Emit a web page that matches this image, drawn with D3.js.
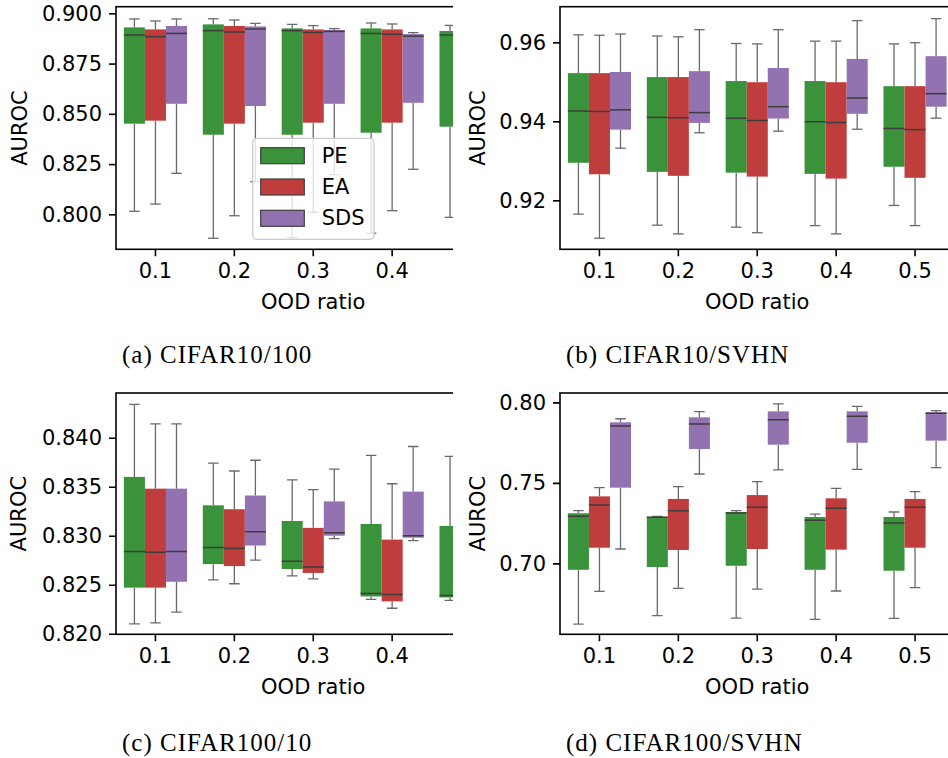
<!DOCTYPE html>
<html>
<head>
<meta charset="utf-8">
<script src="https://cdn.jsdelivr.net/npm/d3@7"></script>
<style>
  html, body { margin: 0; padding: 0; background: #fff; }
  svg { display: block; }
  .tick text { font-family: "DejaVu Sans", sans-serif; font-size: 21px; fill: #000; }
  .lbl { font-family: "DejaVu Sans", sans-serif; font-size: 21px; fill: #000; }
  .cap { font-family: "Liberation Serif", serif; font-size: 25px; letter-spacing: 1px; fill: #000; }
</style>
</head>
<body>
<div id="chart"></div>
<script>
const ratios = ["0.1", "0.2", "0.3", "0.4", "0.5"];
const methods = ["PE", "EA", "SDS"];
const colors = ["#3a923a", "#c03d3e", "#9372b2"];

// each row: [lower whisker, q1, median, q3, upper whisker]; null = outside the picture
const a_PE = [
  [0.8015, 0.8451, 0.8892, 0.8930, 0.8972],
  [0.7881, 0.8396, 0.8914, 0.8945, 0.8973],
  [0.7884, 0.8396, 0.8914, 0.8925, 0.8945],
  [0.7906, 0.8406, 0.8900, 0.8925, 0.8952],
  [0.7985, 0.8436, 0.8892, 0.8912, 0.8940]];
const a_EA = [
  [0.8051, 0.8466, 0.8884, 0.8920, 0.8962],
  [0.7993, 0.8451, 0.8907, 0.8937, 0.8967],
  [0.8010, 0.8456, 0.8905, 0.8920, 0.8939],
  [0.8018, 0.8456, 0.8896, 0.8920, 0.8947],
  null];
const a_SDS = [
  [0.8204, 0.8550, 0.8900, 0.8937, 0.8972],
  [0.8162, 0.8539, 0.8922, 0.8935, 0.8950],
  [0.8197, 0.8550, 0.8910, 0.8917, 0.8924],
  [0.8224, 0.8555, 0.8886, 0.8897, 0.8904],
  null];

const b_PE = [
  [0.9165, 0.9295, 0.9426, 0.9522, 0.9619],
  [0.9137, 0.9272, 0.9410, 0.9512, 0.9616],
  [0.9132, 0.9270, 0.9408, 0.9502, 0.9597],
  [0.9136, 0.9267, 0.9399, 0.9502, 0.9603],
  [0.9187, 0.9285, 0.9382, 0.9489, 0.9596]];
const b_EA = [
  [0.9104, 0.9266, 0.9425, 0.9522, 0.9618],
  [0.9115, 0.9262, 0.9409, 0.9512, 0.9614],
  [0.9118, 0.9260, 0.9402, 0.9499, 0.9596],
  [0.9115, 0.9255, 0.9397, 0.9499, 0.9603],
  [0.9136, 0.9257, 0.9379, 0.9489, 0.9599]];
const b_SDS = [
  [0.9332, 0.9379, 0.9429, 0.9525, 0.9621],
  [0.9371, 0.9396, 0.9422, 0.9527, 0.9632],
  [0.9375, 0.9407, 0.9437, 0.9535, 0.9632],
  [0.9380, 0.9419, 0.9459, 0.9558, 0.9655],
  [0.9408, 0.9437, 0.9470, 0.9565, 0.9660]];

const c_PE = [
  [0.8210, 0.8247, 0.8284, 0.8360, 0.8434],
  [0.8255, 0.8271, 0.8288, 0.8331, 0.8374],
  [0.8259, 0.8266, 0.8274, 0.8315, 0.8357],
  [0.8235, 0.8238, 0.8241, 0.8312, 0.8382],
  [0.8234, 0.8237, 0.8239, 0.8310, 0.8381]];
const c_EA = [
  [0.8211, 0.8247, 0.8283, 0.8348, 0.8414],
  [0.8251, 0.8269, 0.8287, 0.8327, 0.8366],
  [0.8256, 0.8262, 0.8268, 0.8308, 0.8347],
  [0.8226, 0.8233, 0.8240, 0.8296, 0.8353],
  null];
const c_SDS = [
  [0.8222, 0.8253, 0.8284, 0.8348, 0.8414],
  [0.8275, 0.8290, 0.8304, 0.8341, 0.8377],
  [0.8297, 0.8300, 0.8303, 0.8335, 0.8368],
  [0.8295, 0.8298, 0.8300, 0.8345, 0.8391],
  null];

const d_PE = [
  [0.6623, 0.6960, 0.7292, 0.7311, 0.7327],
  [0.6675, 0.6977, 0.7286, 0.7288, 0.7292],
  [0.6660, 0.6985, 0.7312, 0.7319, 0.7327],
  [0.6652, 0.6960, 0.7267, 0.7288, 0.7306],
  [0.6658, 0.6954, 0.7250, 0.7288, 0.7319]];
const d_EA = [
  [0.6826, 0.7097, 0.7362, 0.7416, 0.7470],
  [0.6845, 0.7083, 0.7327, 0.7400, 0.7476],
  [0.6840, 0.7089, 0.7348, 0.7424, 0.7507],
  [0.6828, 0.7085, 0.7342, 0.7404, 0.7466],
  [0.6849, 0.7097, 0.7348, 0.7400, 0.7445]];
const d_SDS = [
  [0.7089, 0.7470, 0.7853, 0.7876, 0.7898],
  [0.7555, 0.7710, 0.7865, 0.7907, 0.7942],
  [0.7580, 0.7737, 0.7892, 0.7944, 0.7991],
  [0.7584, 0.7749, 0.7913, 0.7944, 0.7975],
  [0.7594, 0.7762, 0.7932, 0.7938, 0.7948]];

const a_ticks = [0.800, 0.825, 0.850, 0.875, 0.900];
const b_ticks = [0.92, 0.94, 0.96];
const c_ticks = [0.820, 0.825, 0.830, 0.835, 0.840];
const d_ticks = [0.70, 0.75, 0.80];

const captions = ["(a) CIFAR10/100", "(b) CIFAR10/SVHN", "(c) CIFAR100/10", "(d) CIFAR100/SVHN"];

const W = 948, H = 758;
const svg = d3.select("#chart").append("svg").attr("width", W).attr("height", H);

const panels = [
  { id: "a", series: [a_PE, a_EA, a_SDS], ticks: a_ticks, fmt: ".3f", dom: [0.78260, 0.90330],
    left: 116, top: 6.7, bottom: 249.3, clipRight: 453, ylab: -96, cap: [122, 362.5], legend: true },
  { id: "b", series: [b_PE, b_EA, b_SDS], ticks: b_ticks, fmt: ".2f", dom: [0.90760, 0.96902],
    left: 560, top: 6.7, bottom: 249.3, clipRight: 948, ylab: -82.5, cap: [566, 362.5] },
  { id: "c", series: [c_PE, c_EA, c_SDS], ticks: c_ticks, fmt: ".3f", dom: [0.81994, 0.84456],
    left: 116, top: 393, bottom: 634.3, clipRight: 453, ylab: -97, cap: [122, 751] },
  { id: "d", series: [d_PE, d_EA, d_SDS], ticks: d_ticks, fmt: ".2f", dom: [0.65592, 0.80580],
    left: 560, top: 393, bottom: 634.3, clipRight: 948, ylab: -82.5, cap: [566, 751] }
];

const plotW = 394.5;

panels.forEach((p, pi) => {
  const h = p.bottom - p.top;

  // clip rect lives in the panel's own (translated) coordinates
  svg.append("clipPath").attr("id", "clip-" + p.id)
    .append("rect")
    .attr("x", -p.left).attr("y", -10)
    .attr("width", p.clipRight).attr("height", h + 120);

  const g = svg.append("g").attr("clip-path", "url(#clip-" + p.id + ")")
    .attr("transform", `translate(${p.left},${p.top})`);

  const x = d3.scaleBand().domain(ratios).range([0, plotW]).paddingInner(0.2).paddingOuter(0.1);
  const xh = d3.scaleBand().domain(methods).range([0, x.bandwidth()]);
  const y = d3.scaleLinear().domain(p.dom).range([h, 0]);

  const bw = xh.bandwidth();

  methods.forEach((m, mi) => {
    const rows = p.series[mi];
    rows.forEach((r, ri) => {
      if (!r) return;
      const [lo, q1, med, q3, hi] = r;
      const x0 = x(ratios[ri]) + xh(m);
      const cx = x0 + bw / 2;
      const bg = g.append("g");

      bg.append("line")
        .attr("x1", cx).attr("x2", cx).attr("y1", y(q1)).attr("y2", y(lo))
        .attr("stroke", "#6a6a6a").attr("stroke-width", 1.3);
      bg.append("line")
        .attr("x1", cx).attr("x2", cx).attr("y1", y(q3)).attr("y2", y(hi))
        .attr("stroke", "#6a6a6a").attr("stroke-width", 1.3);
      [lo, hi].forEach(v => {
        bg.append("line")
          .attr("x1", cx - bw / 4).attr("x2", cx + bw / 4).attr("y1", y(v)).attr("y2", y(v))
          .attr("stroke", "#6a6a6a").attr("stroke-width", 1.3);
      });

      bg.append("rect")
        .attr("x", x0).attr("width", bw)
        .attr("y", y(q3)).attr("height", Math.max(0.5, y(q1) - y(q3)))
        .attr("fill", colors[mi]);

      bg.append("line")
        .attr("x1", x0).attr("x2", x0 + bw).attr("y1", y(med)).attr("y2", y(med))
        .attr("stroke", "#3d3d3d").attr("stroke-width", 1.5);
    });
  });

  // axes
  const xAxis = d3.axisBottom(x).tickSize(7).tickPadding(7).tickSizeOuter(0);
  const gx = g.append("g").attr("transform", `translate(0,${h})`).call(xAxis);
  const yAxis = d3.axisLeft(y).tickValues(p.ticks).tickFormat(d3.format(p.fmt)).tickSize(7).tickPadding(7).tickSizeOuter(0);
  const gy = g.append("g").call(yAxis);
  [gx, gy].forEach(ax => {
    ax.select(".domain").remove();
    ax.selectAll(".tick line").attr("stroke", "#000").attr("stroke-width", 1.6);
    ax.attr("font-size", null).attr("font-family", null);
  });

  // spines
  g.append("rect")
    .attr("x", 0).attr("y", 0).attr("width", plotW).attr("height", h)
    .attr("fill", "none").attr("stroke", "#000").attr("stroke-width", 1.6);

  g.append("text").attr("class", "lbl")
    .attr("x", plotW / 2).attr("y", h + 53)
    .attr("text-anchor", "middle").attr("dominant-baseline", "central")
    .text("OOD ratio");

  g.append("text").attr("class", "lbl")
    .attr("transform", `translate(${p.ylab},${h / 2}) rotate(-90)`)
    .attr("text-anchor", "middle").attr("dominant-baseline", "central")
    .text("AUROC");

  if (p.legend) {
    const lg = g.append("g").attr("transform", `translate(${252.7 - p.left},${138.3 - p.top})`);
    lg.append("rect")
      .attr("width", 121.3).attr("height", 101).attr("rx", 4)
      .attr("fill", "#fff").attr("fill-opacity", 0.8)
      .attr("stroke", "#cccccc").attr("stroke-width", 1.3);
    methods.forEach((m, mi) => {
      const cy = 17.4 + mi * 31.3;
      lg.append("rect")
        .attr("x", 8).attr("y", cy - 8).attr("width", 43.6).attr("height", 16)
        .attr("fill", colors[mi]).attr("stroke", "#3f3f3f").attr("stroke-width", 1.2);
      lg.append("text").attr("class", "lbl")
        .attr("x", 69).attr("y", cy).attr("dominant-baseline", "central")
        .text(m);
    });
  }

  svg.append("text").attr("class", "cap")
    .attr("x", p.cap[0]).attr("y", p.cap[1])
    .text(captions[pi]);
});
</script>
</body>
</html>
